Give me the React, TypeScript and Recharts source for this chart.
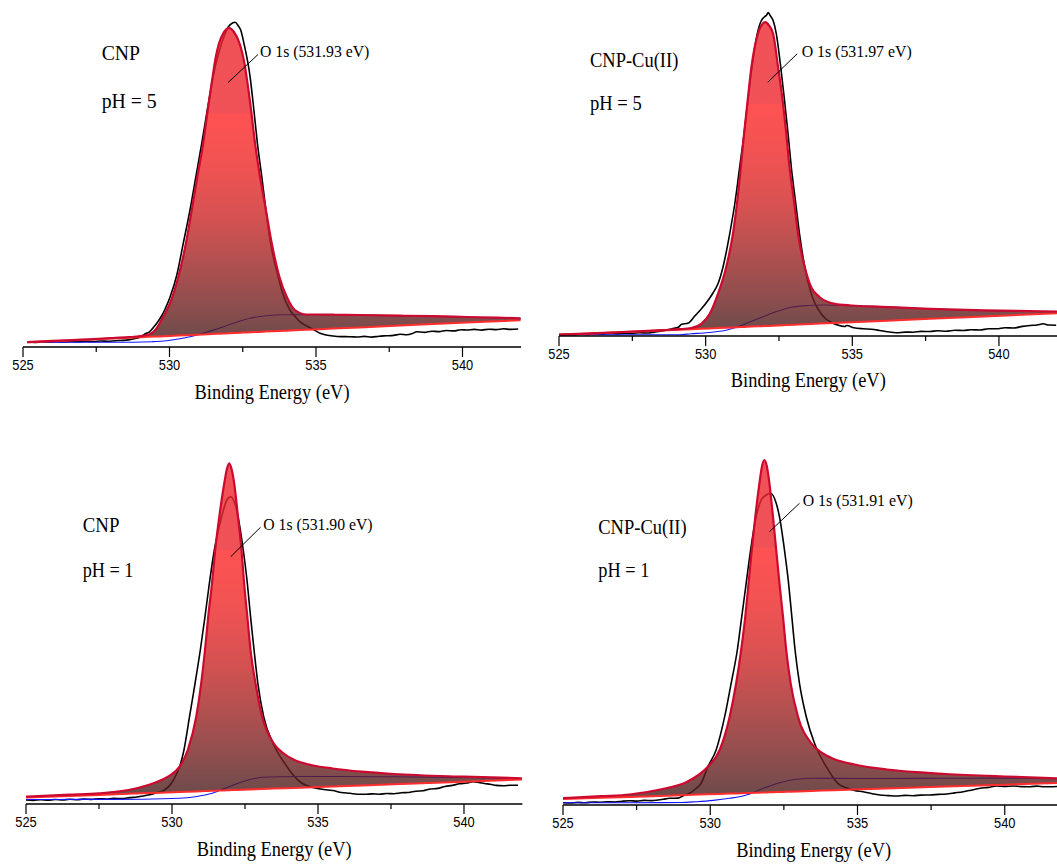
import React from 'react';
import { ComposedChart, Area, Line, XAxis, YAxis, ReferenceLine } from 'recharts';

type Pair = [number, number];
type Fit = [number, number, number]; // [binding energy, fitted envelope, linear baseline]

const X_DOMAIN: [number, number] = [525, 542];
const X_TICKS = [525, 527.5, 530, 532.5, 535, 537.5, 540];
const X_TITLE = 'Binding Energy (eV)';

// ---------- Panel 1: CNP, pH = 5 ----------
const P1_RAW: Pair[] = [
  [525.15, 5.0], [525.4, 4.6], [525.65, 5.2], [525.9, 4.8], [526.15, 5.3], [526.4, 5.0], [526.65, 5.6],
  [526.9, 5.2], [527.15, 5.8], [527.4, 5.5], [527.65, 6.0], [527.9, 5.7], [528.15, 6.3], [528.4, 6.6],
  [528.65, 7.4], [528.88, 8.7], [529.05, 10.5], [529.16, 13], [529.33, 15.3], [529.45, 19.5], [529.56, 23.5],
  [529.73, 31], [529.85, 38], [530.02, 50], [530.25, 72], [530.47, 103.7], [530.7, 137], [530.9, 170.3],
  [531.1, 203.7], [531.29, 237], [531.49, 270.3], [531.78, 303.7], [532.01, 320.3], [532.15, 324],
  [532.24, 324.7], [532.35, 321], [532.43, 317], [532.54, 303.7], [532.75, 270.3], [532.88, 237],
  [533.0, 203.7], [533.15, 170.3], [533.29, 137], [533.45, 103.7], [533.71, 70.3], [533.86, 53.7],
  [534.11, 37], [534.3, 30], [534.45, 25.3], [534.68, 21], [534.9, 17.7], [535.14, 13.7], [535.35, 12],
  [535.58, 11], [535.85, 10.4], [536.16, 10.3], [536.4, 10.0], [536.65, 10.6], [536.9, 9.9], [537.15, 10.8],
  [537.4, 11.2], [537.65, 11.6], [537.87, 12.7], [538.1, 12.2], [538.3, 13.6], [538.44, 15.3], [538.7, 14.6],
  [538.95, 15.8], [539.2, 15.4], [539.45, 16.5], [539.7, 16.1], [539.95, 17.2], [540.14, 17.0], [540.4, 17.6],
  [540.65, 16.9], [540.9, 17.8], [541.15, 17.4], [541.4, 18.2], [541.65, 17.6], [541.9, 18.0],
];
const P1_FIT: Fit[] = [
  [525.15, 4.9, 4.7], [526.0, 6.1, 5.8], [527.0, 7.4, 7.1], [528.0, 8.8, 8.5], [528.6, 9.8, 9.3],
  [529.0, 10.8, 9.8], [529.3, 12.5, 10.2], [529.5, 16.5, 10.4], [529.65, 23, 10.6], [529.8, 31, 10.8],
  [530.02, 44, 11.1], [530.3, 70, 11.5], [530.56, 103.7, 11.8], [530.76, 137, 12.1], [530.95, 170.3, 12.3],
  [531.15, 203.7, 12.6], [531.32, 240, 12.8], [531.45, 266, 13.0], [531.58, 290, 13.2], [531.69, 303.7, 13.3],
  [531.85, 314.5, 13.5], [532.03, 319, 13.8], [532.2, 315, 14.0], [532.41, 302, 14.2], [532.55, 285, 14.4],
  [532.63, 270.3, 14.5], [532.78, 238, 14.7], [532.92, 203.7, 14.9], [533.09, 170.3, 15.1], [533.29, 137, 15.4],
  [533.49, 103.7, 15.7], [533.75, 70.3, 16.0], [534.0, 50.3, 16.3], [534.28, 37, 16.7], [534.68, 32.5, 17.2],
  [535.14, 32.5, 17.8], [535.58, 32.3, 18.4], [536.5, 32, 19.6], [537.87, 31.3, 21.4], [539.0, 30.8, 22.9],
  [540.14, 30, 24.4], [541.2, 29.3, 25.8], [541.98, 28.7, 26.8],
];
const P1_BKG: Pair[] = [
  [525.15, 4.7], [526.5, 4.7], [527.8, 4.7], [528.75, 4.8], [529.4, 5.3], [529.9, 6.3], [530.5, 9.0],
  [531.04, 12.7], [531.61, 18], [532.18, 23.7], [532.75, 28.7], [533.32, 31.3], [533.88, 32.2], [535.02, 32.3],
  [536.5, 31.9], [538.0, 31.1], [539.5, 30.3], [541.0, 29.2], [541.98, 28.4],
];

// ---------- Panel 2: CNP-Cu(II), pH = 5 ----------
const P2_RAW: Pair[] = [
  [525.0, 1.5], [525.25, 1.8], [525.5, 1.3], [525.75, 2.0], [526.0, 1.6], [526.25, 2.3], [526.5, 1.9],
  [526.75, 2.5], [527.0, 2.1], [527.25, 2.8], [527.5, 2.6], [527.75, 3.3], [528.0, 3.0], [528.25, 3.9],
  [528.6, 5.5], [528.85, 7.2], [529.07, 8.8], [529.17, 11.5], [529.41, 13], [529.63, 20], [529.85, 27],
  [530.08, 35.5], [530.25, 43], [530.42, 52.2], [530.59, 68.8], [530.82, 102.2], [531.01, 135.5],
  [531.16, 168.8], [531.31, 202.2], [531.44, 235.5], [531.58, 268.8], [531.76, 302.2], [531.9, 315.5],
  [532.0, 319], [532.08, 321], [532.13, 323.5], [532.2, 320.5], [532.3, 315.5], [532.41, 302.2],
  [532.56, 268.8], [532.69, 235.5], [532.81, 202.2], [532.92, 168.8], [533.06, 135.5], [533.2, 102.2],
  [533.38, 68.8], [533.6, 42.2], [533.94, 22.2], [534.1, 17], [534.28, 13.8], [534.5, 11], [534.74, 9.5],
  [534.81, 10.5], [535.05, 8.3], [535.38, 7.2], [535.65, 6.8], [535.94, 5.5], [536.2, 4.2], [536.51, 3.2],
  [536.8, 3.9], [537.08, 3.8], [537.35, 4.6], [537.65, 4.5], [537.9, 5.3], [538.2, 4.8], [538.5, 5.8],
  [538.79, 5.5], [539.05, 6.3], [539.35, 6.0], [539.65, 7.2], [539.93, 7.2], [540.2, 8.3], [540.5, 8.0],
  [540.8, 9.6], [541.06, 10.5], [541.3, 11.0], [541.51, 12.2], [541.7, 11.0], [541.95, 10.8],
];
const P2_FIT: Fit[] = [
  [525.0, 1.3, 1.0], [526.5, 3.2, 2.9], [527.5, 4.5, 4.2], [528.5, 5.8, 5.5], [529.1, 6.8, 6.2],
  [529.51, 8.0, 6.8], [529.85, 12.2, 7.2], [530.14, 22.2, 7.6], [530.42, 42.2, 7.9], [530.7, 68.8, 8.3],
  [530.93, 102.2, 8.6], [531.08, 135.5, 8.8], [531.19, 166, 8.9], [531.31, 202.2, 9.1], [531.42, 232.2, 9.2],
  [531.56, 268.8, 9.4], [531.78, 302.2, 9.7], [531.9, 310.5, 9.8], [532.03, 313.8, 10.0], [532.16, 310.5, 10.1],
  [532.3, 302.2, 10.3], [532.47, 268.8, 10.6], [532.64, 232.2, 10.8], [532.75, 202.2, 10.9], [532.86, 168.8, 11.1],
  [533.01, 135.5, 11.3], [533.15, 102.2, 11.4], [533.38, 68.8, 11.7], [533.6, 48.8, 12.0], [533.89, 38.8, 12.4],
  [534.4, 32.2, 13.0], [534.97, 30.5, 13.8], [536.0, 29.2, 15.1], [537.65, 27.2, 17.2], [539.5, 25.6, 19.6],
  [541.98, 24.5, 22.7],
];
const P2_BKG: Pair[] = [
  [525.0, 1.2], [527.0, 1.2], [529.1, 1.3], [529.51, 2.2], [530.1, 3.5], [530.65, 5.5], [531.22, 10.5],
  [531.78, 17.2], [532.35, 23.8], [532.92, 28.8], [533.49, 30.5], [534.06, 31.0], [535.0, 30.2], [536.5, 28.6],
  [538.0, 26.8], [540.0, 25.0], [541.98, 24.0],
];

// ---------- Panel 3: CNP, pH = 1 ----------
const P3_RAW: Pair[] = [
  [525.0, 4.0], [525.25, 3.6], [525.5, 4.3], [525.75, 3.8], [526.0, 4.5], [526.25, 4.1], [526.5, 4.7],
  [526.75, 4.3], [527.0, 5.0], [527.25, 4.6], [527.5, 5.3], [527.75, 5.0], [528.0, 5.6], [528.3, 5.4],
  [528.55, 6.4], [528.8, 7.0], [529.0, 8.0], [529.19, 9], [529.45, 11], [529.75, 14], [529.98, 20.7],
  [530.12, 28], [530.26, 37.3], [530.41, 54], [530.6, 87.3], [530.79, 120.7], [530.97, 154], [531.13, 187.3],
  [531.28, 220.7], [531.45, 254], [531.7, 287.3], [531.88, 304], [532.01, 307.3], [532.15, 300.7],
  [532.26, 287.3], [532.44, 254], [532.58, 220.7], [532.69, 187.3], [532.81, 154], [532.94, 120.7],
  [533.14, 87.3], [533.46, 60.7], [533.94, 37.3], [534.15, 29], [534.39, 22], [534.65, 18], [534.9, 16],
  [535.2, 14.5], [535.5, 13.5], [535.8, 11.5], [536.1, 10.7], [536.35, 9.8], [536.6, 9.7], [536.85, 10.1],
  [537.1, 9.8], [537.35, 10.5], [537.6, 10.3], [537.85, 11.2], [538.1, 11.5], [538.35, 12.8], [538.6, 13.2],
  [538.85, 15.0], [539.1, 15.6], [539.35, 17.5], [539.6, 18.6], [539.85, 20.2], [540.1, 21.0], [540.3, 22.3],
  [540.5, 21.6], [540.7, 20.5], [540.9, 19.7], [541.1, 18.6], [541.35, 18.2], [541.6, 18.8], [541.85, 18.7],
];
const P3_FIT: Fit[] = [
  [525.0, 7.3, 6.5], [526.5, 9.3, 8.1], [527.5, 10.7, 9.1], [528.51, 14, 10.2], [529.19, 19, 10.9],
  [529.6, 23.5, 11.3], [529.86, 27.3, 11.6], [530.26, 37.3, 12.0], [530.54, 54, 12.3], [530.83, 87.3, 12.6],
  [531.0, 120.7, 12.8], [531.13, 154, 12.9], [531.24, 187.3, 13.1], [531.37, 220.7, 13.2], [531.48, 254, 13.3],
  [531.62, 287.3, 13.5], [531.79, 320.7, 13.6], [531.88, 335, 13.7], [531.96, 340.7, 13.8], [532.04, 335, 13.9],
  [532.13, 320.7, 14.0], [532.26, 287.3, 14.1], [532.38, 254, 14.3], [532.47, 220.7, 14.3], [532.58, 187.3, 14.5],
  [532.69, 154, 14.6], [532.86, 120.7, 14.8], [533.09, 87.3, 15.0], [533.48, 60.7, 15.4], [533.85, 50, 15.8],
  [534.16, 44.5, 16.1], [534.84, 38.5, 16.8], [535.5, 35.5, 17.5], [536.5, 32.3, 18.6], [537.6, 30, 19.7],
  [540.0, 27.3, 22.3], [541.98, 25.7, 24.4],
];
const P3_BKG: Pair[] = [
  [525.0, 4.5], [527.0, 4.6], [529.0, 4.8], [530.25, 5.7], [530.8, 7.3], [531.38, 10.7], [531.95, 17.3],
  [532.52, 23.3], [533.1, 26.7], [533.66, 27.3], [535.0, 27.5], [537.0, 27.3], [539.0, 26.8], [540.5, 26.2],
  [541.98, 25.3],
];

// ---------- Panel 4: CNP-Cu(II), pH = 1 ----------
const P4_RAW: Pair[] = [
  [525.0, 2.3], [525.25, 2.0], [525.5, 2.6], [525.75, 2.2], [526.0, 3.0], [526.25, 2.7], [526.5, 3.3],
  [526.75, 3.0], [527.0, 3.8], [527.26, 4.3], [527.5, 3.9], [527.75, 4.6], [528.0, 4.4], [528.22, 5.0],
  [528.4, 5.7], [528.62, 6.7], [528.9, 6.9], [529.1, 9.5], [529.3, 11.7], [529.5, 16], [529.69, 21.7],
  [529.92, 38.3], [530.2, 55], [530.49, 88.3], [530.71, 121.7], [530.92, 155], [531.07, 188.3], [531.22, 221.7],
  [531.37, 255], [531.56, 288.3], [531.73, 305], [531.9, 310], [532.05, 311.7], [532.24, 301.7], [532.35, 288.3],
  [532.52, 255], [532.66, 221.7], [532.77, 188.3], [532.88, 155], [533.03, 121.7], [533.26, 88.3], [533.54, 61.7],
  [533.94, 38.3], [534.33, 21.7], [534.63, 17], [534.9, 14.5], [535.19, 13.3], [535.5, 11.3], [535.76, 10],
  [536.05, 9.4], [536.33, 9], [536.6, 9.6], [536.89, 9.3], [537.15, 9.9], [537.46, 10], [537.75, 10.6],
  [538.02, 11], [538.3, 12.1], [538.59, 13.3], [538.85, 14.8], [539.16, 16.7], [539.45, 17.6], [539.72, 19],
  [540.0, 18.6], [540.29, 19], [540.55, 18.4], [540.85, 18.3], [541.1, 18.9], [541.35, 18.2], [541.63, 18.3],
  [541.9, 18.7],
];
const P4_FIT: Fit[] = [
  [525.0, 6.8, 6.0], [526.3, 8.8, 7.2], [527.26, 10.5, 8.1], [528.3, 15.5, 9.1], [529.2, 23, 10.0],
  [529.6, 30, 10.4], [529.92, 38.3, 10.7], [530.32, 55, 11.1], [530.66, 88.3, 11.4], [530.88, 121.7, 11.6],
  [531.05, 155, 11.7], [531.19, 188.3, 11.9], [531.3, 221.7, 12.0], [531.41, 255, 12.1], [531.53, 288.3, 12.2],
  [531.67, 321.7, 12.3], [531.76, 339, 12.4], [531.84, 345, 12.5], [531.92, 339, 12.6], [532.01, 321.7, 12.7],
  [532.13, 288.3, 12.8], [532.24, 255, 12.9], [532.35, 221.7, 13.0], [532.47, 188.3, 13.1], [532.58, 155, 13.2],
  [532.73, 121.7, 13.3], [532.98, 88.3, 13.6], [533.43, 61.7, 14.0], [533.8, 52, 14.4], [534.2, 46, 14.8],
  [534.9, 40.5, 15.4], [536.0, 35.5, 16.5], [537.0, 32.8, 17.4], [538.0, 31, 18.4], [540.0, 28.5, 20.3],
  [541.98, 26.5, 22.2],
];
const P4_BKG: Pair[] = [
  [525.0, 2.3], [527.0, 2.3], [529.0, 2.5], [529.53, 3.3], [530.1, 4.6], [530.66, 6.7], [531.23, 10],
  [531.8, 16.7], [532.36, 22.3], [532.93, 25.7], [533.49, 26.7], [535.0, 26.5], [537.0, 26.6], [539.0, 26.8],
  [540.5, 26.9], [541.98, 26.2],
];

// ---------- Annotation texts ----------
const SAMPLES = ['CNP', 'CNP-Cu(II)', 'CNP', 'CNP-Cu(II)'];
const PH_LABELS = ['pH = 5', 'pH = 5', 'pH = 1', 'pH = 1'];
const PEAK_LABELS = ['O 1s (531.93 eV)', 'O 1s (531.97 eV)', 'O 1s (531.90 eV)', 'O 1s (531.91 eV)'];
// leader line ends in data units [energy, intensity]
const LEADERS: [Pair, Pair][] = [
  [[532.0, 264.5], [533.02, 292.5]],
  [[532.12, 253.8], [533.12, 282.2]],
  [[532.01, 247.3], [533.03, 276.7]],
  [[532.01, 273.3], [533.03, 301.7]],
];

const SERIF = "'Times New Roman', 'Liberation Serif', Times, serif";
const SANS = "Arial, 'Liberation Sans', Helvetica, sans-serif";

interface Layout {
  plotLeft: number;
  pxPerEv: number;
  axisY: number;
  yMax: number;
  band: number;
  sample: [number, number, number];
  ph: [number, number, number];
  peak: [number, number, number];
}

const LAYOUTS: Layout[] = [
  { plotLeft: 23, pxPerEv: 29.3, axisY: 347, yMax: 337, band: 0.274, sample: [101.7, 60, 38.3], ph: [101.7, 108.3, 55], peak: [260, 56.7, 109.3] },
  { plotLeft: 559, pxPerEv: 29.33, axisY: 335.5, yMax: 325, band: 0.262, sample: [590, 66.5, 88.3], ph: [590, 110, 51.7], peak: [801.7, 57.3, 110] },
  { plotLeft: 26, pxPerEv: 29.2, axisY: 804, yMax: 360, band: 0.262, sample: [82.7, 531.7, 36.7], ph: [82.7, 577.3, 50.7], peak: [263.3, 530, 109.3] },
  { plotLeft: 563.3, pxPerEv: 29.45, axisY: 805, yMax: 360, band: 0.26, sample: [598.3, 534, 88.3], ph: [598.3, 577.3, 51], peak: [802.7, 506, 110] },
];

const PANELS = [
  { raw: P1_RAW, fit: P1_FIT, bkg: P1_BKG },
  { raw: P2_RAW, fit: P2_FIT, bkg: P2_BKG },
  { raw: P3_RAW, fit: P3_FIT, bkg: P3_BKG },
  { raw: P4_RAW, fit: P4_FIT, bkg: P4_BKG },
];

// gradient below the band: [relative position from band to bottom, colour]
const LOWER_STOPS: [number, string][] = [
  [0, '#ff2727'],
  [0.25, '#ea2727'],
  [0.45, '#cc2626'],
  [0.66, '#9c2424'],
  [0.86, '#6d2121'],
  [1, '#451d1d'],
];
const UPPER_COLOR = '#ec262d';
const FILL_ALPHA = 0.8;

const ML = 15;
const MR = 10;
const MT = 10;
const AXIS_H = 60;

function buildRows(p: { raw: Pair[]; fit: Fit[]; bkg: Pair[] }) {
  const rows: any[] = [];
  p.raw.forEach(([e, v]) => rows.push({ e, raw: v }));
  p.bkg.forEach(([e, v]) => rows.push({ e, bkg: v }));
  p.fit.forEach(([e, top, base]) => rows.push({ e, top, base, range: [base, top] }));
  rows.sort((a, b) => a.e - b.e);
  return rows;
}

const renderTick = (props: any) => {
  const { x, y, payload } = props;
  const v = payload.value as number;
  const major = v % 5 === 0;
  return (
    <g>
      <line x1={x} x2={x} y1={y} y2={y + (major ? 10 : 5)} stroke="#000" strokeWidth={1.2} />
      {major && (
        <text
          x={x}
          y={y + 23.5}
          textAnchor="middle"
          fontFamily={SANS}
          fontSize={14}
          textLength={21.5}
          lengthAdjust="spacingAndGlyphs"
          fill="#000"
        >
          {v}
        </text>
      )}
    </g>
  );
};

function Panel({ idx }: { idx: number }) {
  const L = LAYOUTS[idx];
  const rows = buildRows(PANELS[idx]);
  const plotW = (X_DOMAIN[1] - X_DOMAIN[0]) * L.pxPerEv;
  const W = ML + plotW + MR;
  const H = MT + L.yMax + AXIS_H;
  const left = L.plotLeft - ML;
  const top = L.axisY - L.yMax - MT;
  const gid = `fillGrad${idx}`;
  const leader = LEADERS[idx];
  return (
    <div style={{ position: 'absolute', left, top, width: W, height: H }}>
      <ComposedChart width={W} height={H} data={rows} margin={{ top: MT, right: MR, bottom: 0, left: ML }}>
        <defs>
          <linearGradient id={gid} x1="0" y1="0" x2="0" y2="1">
            <stop offset="0" stopColor={UPPER_COLOR} stopOpacity={FILL_ALPHA} />
            <stop offset={L.band - 0.003} stopColor={UPPER_COLOR} stopOpacity={FILL_ALPHA} />
            {LOWER_STOPS.map(([k, c], j) => (
              <stop key={j} offset={L.band + (1 - L.band) * k} stopColor={c} stopOpacity={FILL_ALPHA} />
            ))}
          </linearGradient>
        </defs>
        <XAxis
          dataKey="e"
          type="number"
          domain={X_DOMAIN}
          ticks={X_TICKS}
          interval={0}
          allowDataOverflow
          tickLine={false}
          tickSize={0}
          tickMargin={0}
          height={AXIS_H}
          axisLine={{ stroke: '#000', strokeWidth: 1.3 }}
          tick={renderTick}
        />
        <YAxis hide type="number" domain={[0, L.yMax]} allowDataOverflow />
        <Area
          dataKey="raw"
          type="monotone"
          connectNulls
          stroke="#000"
          strokeWidth={1.6}
          fill="none"
          dot={false}
          activeDot={false}
          isAnimationActive={false}
        />
        <Area
          dataKey="bkg"
          type="monotone"
          connectNulls
          stroke="#1414ff"
          strokeWidth={1.1}
          fill="none"
          dot={false}
          activeDot={false}
          isAnimationActive={false}
        />
        <Area
          dataKey="range"
          type="monotone"
          connectNulls
          stroke="none"
          fill={`url(#${gid})`}
          fillOpacity={1}
          dot={false}
          activeDot={false}
          isAnimationActive={false}
        />
        <Line
          dataKey="base"
          type="linear"
          connectNulls
          stroke="#ff2d2d"
          strokeWidth={2}
          dot={false}
          activeDot={false}
          isAnimationActive={false}
        />
        <Line
          dataKey="top"
          type="monotone"
          connectNulls
          stroke="#cc0a30"
          strokeWidth={2.2}
          dot={false}
          activeDot={false}
          isAnimationActive={false}
        />
        <ReferenceLine
          segment={[{ x: leader[0][0], y: leader[0][1] }, { x: leader[1][0], y: leader[1][1] }]}
          stroke="#000"
          strokeWidth={1}
        />
      </ComposedChart>
    </div>
  );
}

function Overlay() {
  return (
    <svg
      width={1057}
      height={864}
      style={{ position: 'absolute', left: 0, top: 0, pointerEvents: 'none' }}
    >
      {LAYOUTS.map((L, i) => {
        const cx = L.plotLeft + ((X_DOMAIN[1] - X_DOMAIN[0]) * L.pxPerEv) / 2;
        return (
          <g key={i} fill="#000" fontFamily={SERIF}>
            <text x={L.sample[0]} y={L.sample[1]} fontSize={22} textLength={L.sample[2]} lengthAdjust="spacingAndGlyphs">
              {SAMPLES[i]}
            </text>
            <text x={L.ph[0]} y={L.ph[1]} fontSize={22} textLength={L.ph[2]} lengthAdjust="spacingAndGlyphs">
              {PH_LABELS[i]}
            </text>
            <text x={L.peak[0]} y={L.peak[1]} fontSize={17.5} textLength={L.peak[2]} lengthAdjust="spacingAndGlyphs">
              {PEAK_LABELS[i]}
            </text>
            <text x={cx} y={L.axisY + 51.5} fontSize={20} textAnchor="middle" textLength={155} lengthAdjust="spacingAndGlyphs">
              {X_TITLE}
            </text>
          </g>
        );
      })}
    </svg>
  );
}

export default function App() {
  return (
    <div
      style={{
        position: 'absolute',
        left: 0,
        top: 0,
        width: 1057,
        height: 864,
        overflow: 'hidden',
        background: '#fff',
      }}
    >
      {[0, 1, 2, 3].map((i) => (
        <Panel key={i} idx={i} />
      ))}
      <Overlay />
    </div>
  );
}
